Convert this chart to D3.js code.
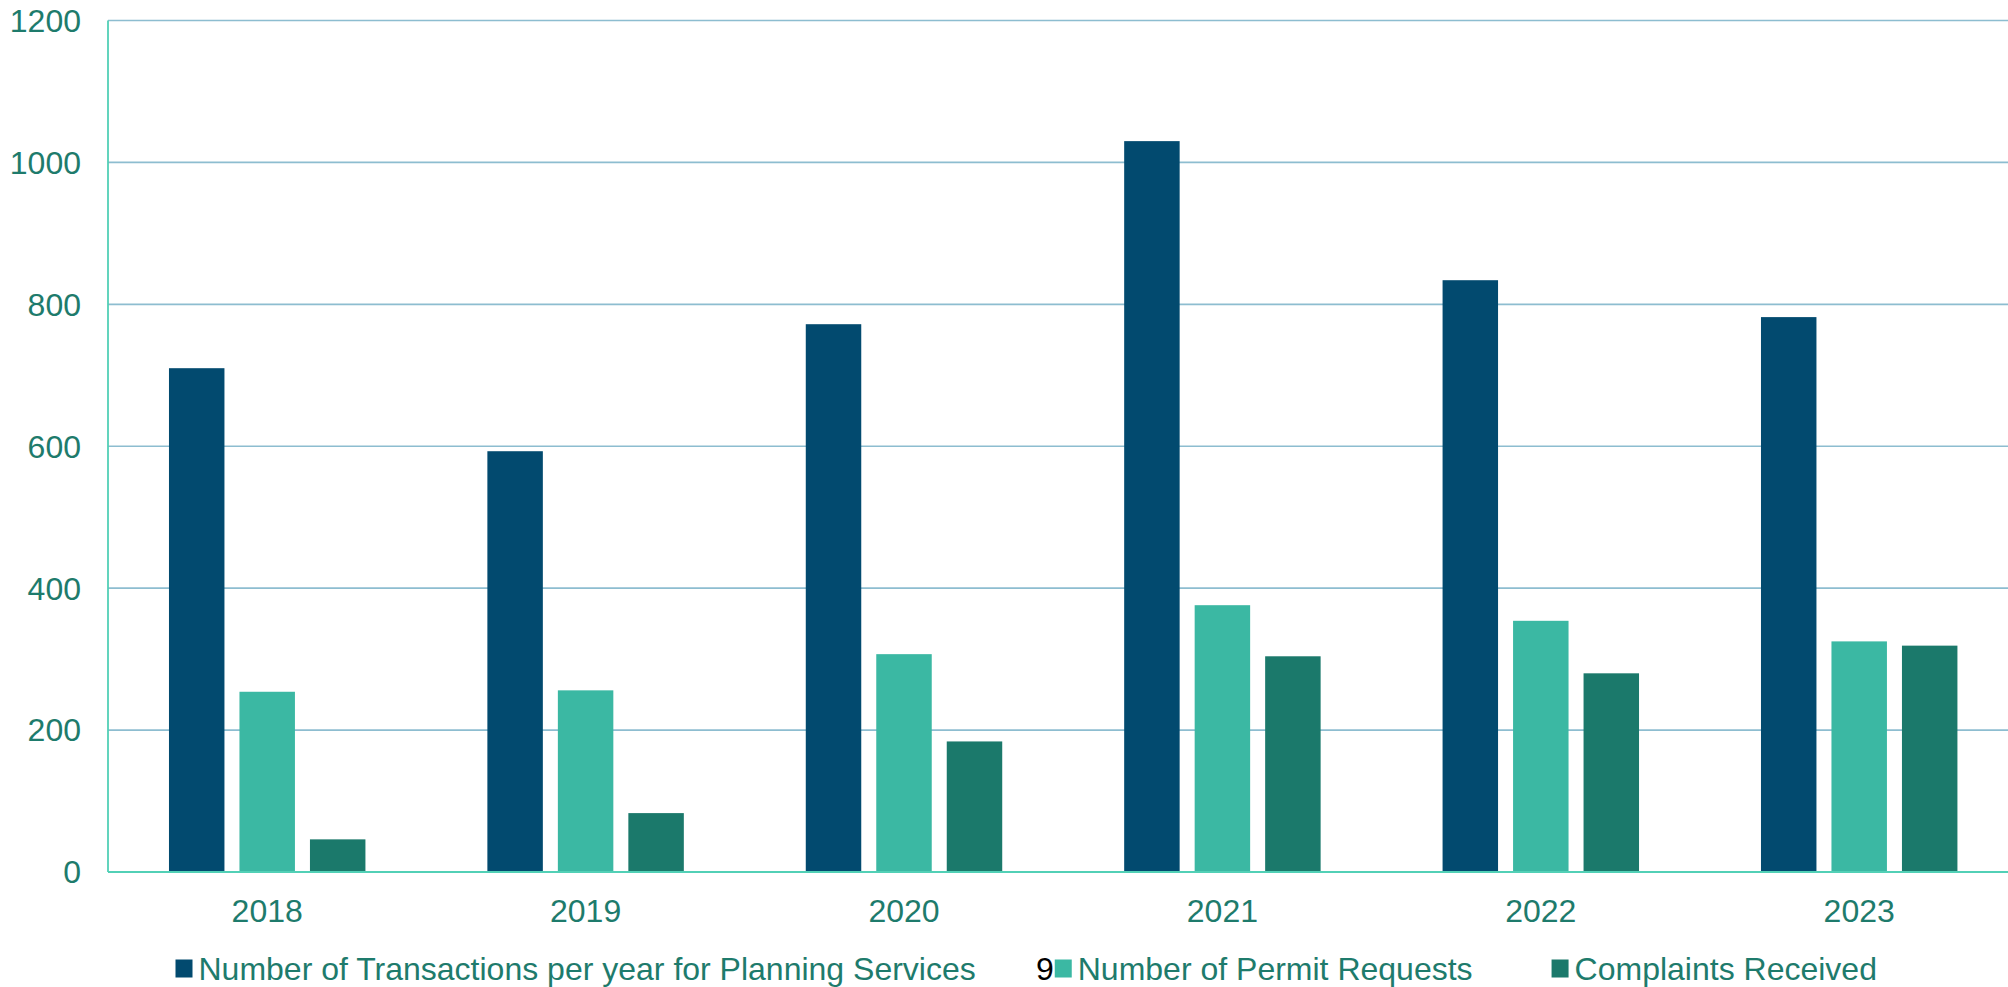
<!DOCTYPE html>
<html>
<head>
<meta charset="utf-8">
<script src="https://cdn.jsdelivr.net/npm/d3@7"></script>
<style>
  html, body { margin: 0; padding: 0; background: #fff; }
  svg { display: block; }
  text { font-family: "Liberation Sans", Arial, sans-serif; }
</style>
</head>
<body>
<svg id="chart" width="2008" height="987"></svg>
<script>
// ---- data ----
const years = ["2018", "2019", "2020", "2021", "2022", "2023"];
const seriesNames = [
  "Number of Transactions per year for Planning Services",
  "Number of Permit Requests",
  "Complaints Received"
];
const transactions = [710, 593, 772, 1030, 834, 782];
const permitRequests = [254, 256, 307, 376, 354, 325];
const complaints = [46, 83, 184, 304, 280, 319];
const yTicks = [0, 200, 400, 600, 800, 1000, 1200];
const seriesColors = ["#024A6F", "#3BB8A3", "#1B796B"];

const seriesValues = [transactions, permitRequests, complaints];

// ---- layout ----
(function () {
const svg = d3.select("#chart");
const plotLeft = 108, plotTop = 20.5, plotBottom = 872;
const step = 318.4;
const plotRight = plotLeft + step * years.length;
const textColor = "#1E7B6C";
const fontSize = 32;

const x0 = d3.scaleBand().domain(years).range([plotLeft, plotRight])
  .paddingInner(0.383).paddingOuter(0.1915);
const x1 = d3.scaleBand().domain(d3.range(seriesNames.length))
  .range([0, x0.bandwidth()]).paddingInner(0.213).paddingOuter(0);
const y = d3.scaleLinear().domain([0, 1200]).range([plotBottom, plotTop]);

// gridlines
svg.append("g").selectAll("line").data(yTicks.filter(d => d > 0)).join("line")
  .attr("x1", plotLeft).attr("x2", 2008)
  .attr("y1", d => y(d)).attr("y2", d => y(d))
  .attr("stroke", "#8DBDD0").attr("stroke-width", 1.6);

// bars
const groups = svg.append("g").selectAll("g").data(years).join("g")
  .attr("transform", d => `translate(${x0(d)},0)`);
groups.selectAll("rect")
  .data((yr, i) => seriesValues.map((vals, s) => ({ s, v: vals[i] })))
  .join("rect")
  .attr("x", d => x1(d.s))
  .attr("width", x1.bandwidth())
  .attr("y", d => y(d.v))
  .attr("height", d => y(0) - y(d.v))
  .attr("fill", d => seriesColors[d.s]);

// axes lines
svg.append("line").attr("x1", plotLeft).attr("x2", plotLeft).attr("y1", y(1200)).attr("y2", y(0))
  .attr("stroke", "#52D0B6").attr("stroke-width", 1.8);
svg.append("line").attr("x1", plotLeft).attr("x2", 2008).attr("y1", y(0)).attr("y2", y(0))
  .attr("stroke", "#52D0B6").attr("stroke-width", 1.8);

// y tick labels
const yAxis = d3.axisLeft(y).tickValues(yTicks).tickSize(0).tickPadding(0).tickFormat(d3.format("d"));
const yg = svg.append("g").attr("transform", `translate(${81},0)`).call(yAxis);
yg.select(".domain").remove();
yg.selectAll("text").attr("fill", textColor).style("font-size", fontSize + "px")
  .style("font-family", '"Liberation Sans", Arial, sans-serif')
  .attr("dy", "0.34em").attr("x", 0);

// x tick labels
const xAxis = d3.axisBottom(x0).tickSize(0).tickPadding(0);
const xg = svg.append("g").call(xAxis);
xg.select(".domain").remove();
xg.selectAll("text").attr("fill", textColor).style("font-size", fontSize + "px")
  .style("font-family", '"Liberation Sans", Arial, sans-serif')
  .attr("y", 921.5).attr("dy", 0);

// legend
const legend = svg.append("g");
let lx = 175.5;
const legendBaseline = 980;
const sq = 17;
seriesNames.forEach((name, i) => {
  if (i === 1) {
    legend.append("text").attr("x", lx - 1).attr("y", legendBaseline)
      .attr("text-anchor", "end").attr("fill", "#000")
      .style("font-size", fontSize + "px").text("9");
  }
  legend.append("rect").attr("x", lx).attr("y", 959.5).attr("width", sq).attr("height", sq + 1)
    .attr("fill", seriesColors[i]);
  const t = legend.append("text").attr("x", lx + sq + 6).attr("y", legendBaseline)
    .attr("fill", textColor).style("font-size", fontSize + "px").text(name);
  lx = lx + sq + 6 + t.node().getComputedTextLength() + 79;
});
})();
</script>
</body>
</html>
